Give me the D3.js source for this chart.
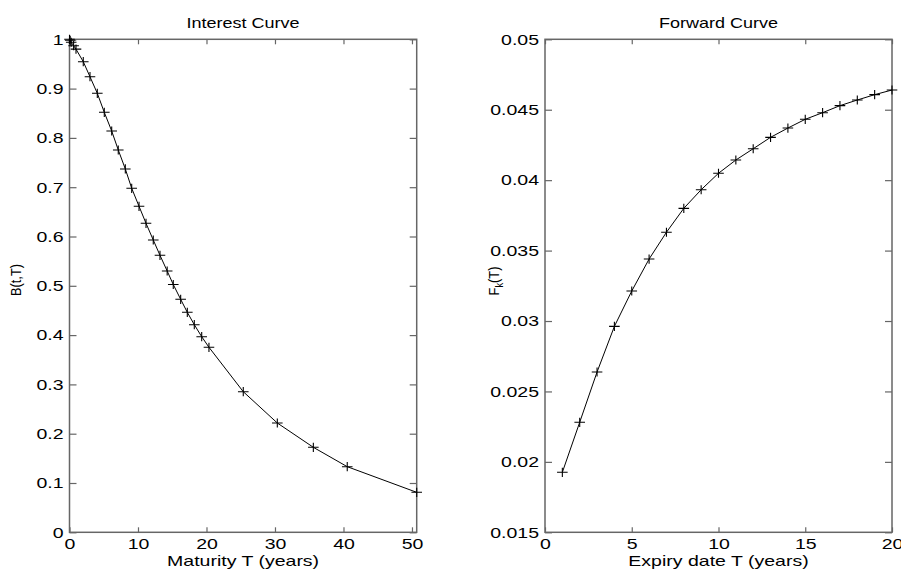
<!DOCTYPE html>
<html>
<head>
<meta charset="utf-8">
<script src="https://cdn.jsdelivr.net/npm/d3@7"></script>
<style>
  html, body { margin: 0; padding: 0; background: #fff; }
  svg { display: block; font-family: "Liberation Sans", Arial, sans-serif; }
  .tick text { font-size: 15px; fill: #000; }
  .tick line { stroke: #666; stroke-width: 1.2; }
</style>
</head>
<body>
<svg id="chart" width="901" height="570"></svg>
<script>
// Discount bond prices B(t,T) by maturity
const maturityT = [0, 0.1, 0.25, 0.6, 0.95, 2.01, 2.99, 4.06, 5.08, 6.16, 7.12, 8.15, 9.08, 10.15,
  11.17, 12.23, 13.21, 14.26, 15.15, 16.23, 17.2, 18.22, 19.3, 20.36, 25.37, 30.34, 35.6, 40.55, 50.69];
const bondPrice = [1.0, 0.998, 0.994, 0.987, 0.980, 0.9546, 0.9241, 0.8905, 0.8519, 0.814, 0.7755, 0.737,
  0.6978, 0.6613, 0.6268, 0.5929, 0.5619, 0.530, 0.5026, 0.4726, 0.4462, 0.4211, 0.3968, 0.3753,
  0.2852, 0.2217, 0.1724, 0.1331, 0.0811];

// Forward rates F_k(T) by expiry date
const expiryT = [1, 2, 3, 4, 5, 6, 7, 8, 9, 10, 11, 12, 13, 14, 15, 16, 17, 18, 19, 20];
const forwardRate = [0.01926, 0.02281, 0.02638, 0.02962, 0.03213, 0.0344, 0.0363, 0.0380, 0.03932,
  0.04049, 0.04143, 0.04223, 0.04304, 0.0437, 0.04432, 0.04479, 0.04529, 0.04569, 0.04607, 0.0464];

// Tick values and labels
const leftXTicks = [0, 10, 20, 30, 40, 50];
const leftYTicks = [0, 0.1, 0.2, 0.3, 0.4, 0.5, 0.6, 0.7, 0.8, 0.9, 1];
const leftYLabels = ["0", "0.1", "0.2", "0.3", "0.4", "0.5", "0.6", "0.7", "0.8", "0.9", "1"];
const rightXTicks = [0, 5, 10, 15, 20];
const rightYTicks = [0.015, 0.02, 0.025, 0.03, 0.035, 0.04, 0.045, 0.05];
const rightYLabels = ["0.015", "0.02", "0.025", "0.03", "0.035", "0.04", "0.045", "0.05"];

const svg = d3.select("#chart");

// wide lettering: stretch each text along its run
function stretch(sel, k) {
  sel.each(function () {
    const len = this.getComputedTextLength();
    if (len > 0) {
      d3.select(this).attr("textLength", len * k).attr("lengthAdjust", "spacingAndGlyphs");
    }
  });
}
const WIDE = 1.3;

function panel(opts) {
  const { left, right, top, bottom, xDomain, yDomain, xs, ys, xTicks, yTicks, yLabels, title, xLabel } = opts;
  const x = d3.scaleLinear().domain(xDomain).range([left, right]);
  const y = d3.scaleLinear().domain(yDomain).range([bottom, top]);
  const g = svg.append("g");

  // inward ticks on all four sides, labels on bottom and left
  g.append("g").attr("transform", `translate(0,${bottom})`)
    .call(d3.axisBottom(x).tickValues(xTicks).tickSize(-5).tickPadding(6)
      .tickFormat(d3.format("~g")));
  g.append("g").attr("transform", `translate(0,${top})`)
    .call(d3.axisTop(x).tickValues(xTicks).tickSize(-5).tickFormat(""));
  g.append("g").attr("transform", `translate(${left},0)`)
    .call(d3.axisLeft(y).tickValues(yTicks).tickSize(-7).tickPadding(6)
      .tickFormat((d, i) => yLabels[i]));
  g.append("g").attr("transform", `translate(${right},0)`)
    .call(d3.axisRight(y).tickValues(yTicks).tickSize(-7).tickFormat(""));
  g.selectAll(".domain").remove();
  g.selectAll(".tick text").attr("font-family", null).attr("font-size", null);
  stretch(g.selectAll(".tick text"), WIDE);

  // axes box
  g.append("rect").attr("x", left).attr("y", top)
    .attr("width", right - left).attr("height", bottom - top)
    .attr("fill", "none").attr("stroke", "#666").attr("stroke-width", 1.5);

  const pts = xs.map((v, i) => [v, ys[i]]);
  g.append("path").datum(pts)
    .attr("fill", "none").attr("stroke", "#000").attr("stroke-width", 1)
    .attr("d", d3.line().x(d => x(d[0])).y(d => y(d[1])));

  const mx = 5.3, my = 4.6;
  g.append("g").selectAll("path.mk").data(pts).join("path")
    .attr("class", "mk")
    .attr("fill", "none").attr("stroke", "#000").attr("stroke-width", 1.1)
    .attr("d", d => {
      const px = x(d[0]), py = y(d[1]);
      return `M${px - mx},${py}H${px + mx}M${px},${py - my}V${py + my}`;
    });

  const t = g.append("text").attr("x", (left + right) / 2).attr("y", 28)
    .attr("text-anchor", "middle").attr("font-size", 15).text(title);
  const xl = g.append("text").attr("x", (left + right) / 2).attr("y", 566)
    .attr("text-anchor", "middle").attr("font-size", 15).text(xLabel);
  stretch(t, 1.2);
  stretch(xl, WIDE);
  return g;
}

panel({
  left: 69.5, right: 416.7, top: 39.3, bottom: 532.3,
  xDomain: [0, 50.69], yDomain: [0, 1],
  xs: maturityT, ys: bondPrice,
  xTicks: leftXTicks, yTicks: leftYTicks, yLabels: leftYLabels,
  title: "Interest Curve", xLabel: "Maturity T (years)"
});

panel({
  left: 545, right: 892, top: 39.3, bottom: 532.3,
  xDomain: [0, 20], yDomain: [0.015, 0.05],
  xs: expiryT, ys: forwardRate,
  xTicks: rightXTicks, yTicks: rightYTicks, yLabels: rightYLabels,
  title: "Forward Curve", xLabel: "Expiry date T (years)"
});

// y-axis titles (vertical lettering runs narrower)
const by = svg.append("text").attr("transform", "translate(21,280) rotate(-90)")
  .attr("text-anchor", "middle").attr("font-size", 15).text("B(t,T)");
stretch(by, 0.85);
const fk = svg.append("text").attr("transform", "translate(499,281) rotate(-90)")
  .attr("text-anchor", "middle").attr("font-size", 15);
fk.append("tspan").text("F");
fk.append("tspan").attr("font-size", 11).attr("dy", 4).text("k");
fk.append("tspan").attr("dy", -4).text("(T)");
stretch(fk, 0.85);
</script>
</body>
</html>
